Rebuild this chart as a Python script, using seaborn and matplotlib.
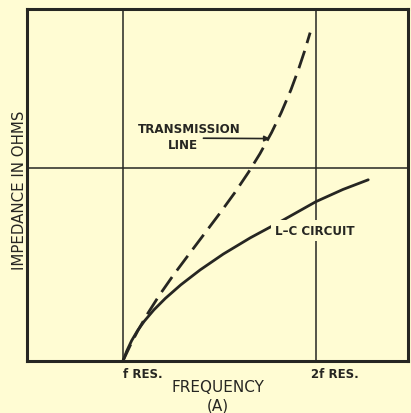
import matplotlib
matplotlib.use("Agg")
import matplotlib.pyplot as plt
from matplotlib.transforms import ScaledTranslation
import seaborn as sns

# Frequency in multiples of the resonant frequency, impedance in arbitrary units
lc_freq = [1.0, 1.02, 1.045, 1.075, 1.11, 1.16, 1.22, 1.30, 1.40, 1.52, 1.66, 1.82, 2.0, 2.14, 2.271]
lc_imp = [0.0, 0.052, 0.105, 0.156, 0.205, 0.264, 0.324, 0.394, 0.471, 0.553, 0.637, 0.723, 0.824, 0.887, 0.937]

line_freq = [1.0, 1.04, 1.08, 1.13, 1.19, 1.26, 1.34, 1.42, 1.50, 1.58, 1.65, 1.71, 1.77, 1.82, 1.87, 1.91, 1.94, 1.97]
line_imp = [0.0, 0.085, 0.162, 0.248, 0.342, 0.442, 0.549, 0.655, 0.761, 0.871, 0.975, 1.072, 1.181, 1.284, 1.401, 1.509, 1.599, 1.698]

tick_pos = [1, 2]
tick_labels = ["f RES.", "2f RES."]

PAPER = "#fffcd3"
INK = "#262622"

sns.set_style("white")
plt.rcParams["font.family"] = ["DejaVu Sans"]

fig = plt.figure(figsize=(4.11, 4.14), dpi=100, facecolor=PAPER)
ax = fig.add_axes([0.0657, 0.1256, 0.927, 0.8502])
ax.set_facecolor(PAPER)

# grid lines at resonance, twice resonance and unit impedance
for xv in tick_pos:
    ax.axvline(xv, color=INK, lw=1.1, zorder=1)
ax.axhline(1.0, color=INK, lw=1.1, zorder=1)

sns.lineplot(x=lc_freq, y=lc_imp, ax=ax, color=INK, lw=2.0, sort=False,
             estimator=None, zorder=3, solid_joinstyle="round", solid_capstyle="round")
sns.lineplot(x=line_freq, y=line_imp, ax=ax, color=INK, lw=2.0, sort=False,
             estimator=None, zorder=3, linestyle=(0, (6.6, 2.9)),
             dash_joinstyle="round")

ax.set_xlim(0.503, 2.477)
ax.set_ylim(0, 1.82)

for s in ax.spines.values():
    s.set_visible(True)
    s.set_color(INK)
    s.set_linewidth(2.2)

ax.set_yticks([])
ax.set_xticks(tick_pos)
ax.set_xticklabels(tick_labels, fontsize=8.5, fontweight="bold", color=INK, ha="left")
ax.tick_params(axis="x", length=0, pad=4)
lbls = ax.get_xticklabels()
lbls[1].set_transform(lbls[1].get_transform() + ScaledTranslation(-0.05, 0, fig.dpi_scale_trans))

ax.set_xlabel("FREQUENCY\n(A)", fontsize=11, color=INK, linespacing=1.3)
ax.xaxis.set_label_coords(0.5, -0.05, transform=ax.transAxes)
ax.xaxis.label.set_va("top")
ax.set_ylabel("IMPEDANCE IN OHMS", fontsize=10.8, color=INK)
ax.yaxis.set_label_coords(-0.021, 0.489)
ax.yaxis.label.set_va("center")

ax.text(1.343, 1.20, "TRANSMISSION", fontsize=8.6, fontweight="bold", color=INK,
        ha="center", va="center", zorder=4)
ax.text(1.309, 1.117, "LINE", fontsize=8.6, fontweight="bold", color=INK,
        ha="center", va="center", zorder=4)
ax.annotate("", xy=(1.762, 1.15), xytext=(1.417, 1.152),
            arrowprops=dict(arrowstyle="-|>", color=INK, lw=1.2, mutation_scale=8,
                            shrinkA=0, shrinkB=0), zorder=4)
ax.text(1.995, 0.674, "L\u2013C CIRCUIT", fontsize=8.6, fontweight="bold", color=INK,
        ha="center", va="center", zorder=4,
        bbox=dict(boxstyle="square,pad=0.35", fc=PAPER, ec="none"))

fig.savefig("out.png", dpi=100, facecolor=PAPER)
